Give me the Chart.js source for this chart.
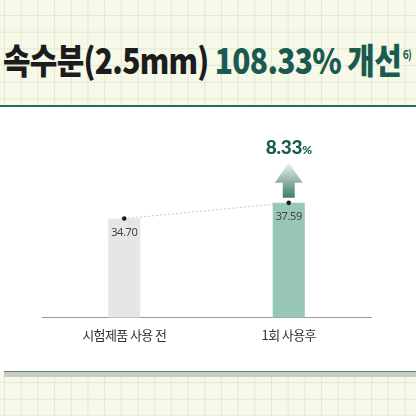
<!DOCTYPE html>
<html>
<head>
<meta charset="utf-8">
<script src="https://cdn.jsdelivr.net/npm/chart.js@4"></script>
<style>
  html, body { margin: 0; padding: 0; width: 416px; height: 416px; overflow: hidden; }
  body {
    position: relative;
    background-color: #f6f8e8;
    background-image:
      linear-gradient(to right, #e3e8d3 1px, transparent 1px),
      linear-gradient(to bottom, #e3e8d3 1px, transparent 1px);
    background-size: 16.7px 16.7px;
    background-position: 4px 15px;
    font-family: 'Noto Sans CJK KR', sans-serif;
  }
  #title {
    position: absolute; left: 3px; top: 35px;
    white-space: nowrap; font-size: 35px; font-weight: 900; line-height: 48px;
    color: #1c1c1c; letter-spacing: -0.8px;
    transform-origin: 0 50%; transform: scaleX(0.855);
  }
  #title .hl { color: #1b5a50; }
  #title .note { font-size: 12px; font-weight: 700; position: relative; top: -15px; margin-left: 2px; }
  #panel { position: absolute; left: 0; top: 105px; width: 416px; height: 264px; background: #fff; border-top: 2px solid #2b6b5c; }
  #band { position: absolute; left: 4px; right: 0; top: 371px; height: 5px; background: #c9cdbf; border-top: 1px solid #5b8078; }
  #wrap { position: absolute; left: 0; top: 107px; width: 416px; height: 264px; }
</style>
</head>
<body>
<div id="title">속수분(2.5mm) <span class="hl">108.33% 개선<span class="note">6)</span></span></div>
<div id="panel"></div>
<div id="band"></div>
<div id="wrap"><canvas id="moistChart"></canvas></div>
<script>
// 속수분 측정값
const categories = ['시험제품 사용 전', '1회 사용후'];
const moisture = [34.70, 37.59];
const valueLabels = ['34.70', '37.59'];
const barColors = ['#e6e6e6', '#98c7b7'];
const increaseValue = '8.33';

const annotate = {
  id: 'annotate',
  beforeDraw(chart) {
    chart.ctx.letterSpacing = '-0.6px';
  },
  afterDatasetsDraw(chart) {
    const ctx = chart.ctx;
    const bars = chart.getDatasetMeta(0).data;
    ctx.save();
    ctx.letterSpacing = '-0.4px';
    ctx.textAlign = 'center';
    ctx.textBaseline = 'middle';
    ctx.fillStyle = '#444';
    ctx.font = "11px 'Noto Sans'";
    bars.forEach((b, i) => ctx.fillText(valueLabels[i], b.x, b.y + 14));

    // 상승 화살표
    const b = bars[1];
    const tip = b.y - 40, neck = b.y - 20, foot = b.y - 5;
    const grad = ctx.createLinearGradient(0, tip, 0, foot);
    grad.addColorStop(0, '#eef2e8');
    grad.addColorStop(1, '#3e7c6c');
    ctx.fillStyle = grad;
    ctx.beginPath();
    ctx.moveTo(b.x, tip);
    ctx.lineTo(b.x + 14, neck);
    ctx.lineTo(b.x + 6, neck);
    ctx.lineTo(b.x + 6, foot);
    ctx.lineTo(b.x - 6, foot);
    ctx.lineTo(b.x - 6, neck);
    ctx.lineTo(b.x - 14, neck);
    ctx.closePath();
    ctx.fill();

    ctx.fillStyle = '#175a4e';
    ctx.letterSpacing = '-0.3px';
    ctx.font = "900 19px Lato";
    const w1 = ctx.measureText(increaseValue).width;
    ctx.font = "900 12px Lato";
    const w2 = ctx.measureText('%').width;
    const x0 = b.x - (w1 + w2) / 2;
    ctx.textAlign = 'left';
    ctx.textBaseline = 'alphabetic';
    ctx.font = "900 19px Lato";
    ctx.fillText(increaseValue, x0, b.y - 49);
    ctx.font = "900 12px Lato";
    ctx.fillText('%', x0 + w1, b.y - 49);
    ctx.restore();
  }
};

new Chart(document.getElementById('moistChart'), {
  data: {
    labels: categories,
    datasets: [{
      type: 'bar',
      data: moisture,
      backgroundColor: barColors,
      barPercentage: 0.195,
      categoryPercentage: 1,
      order: 1
    }, {
      type: 'line',
      data: moisture,
      borderColor: '#c8c8c8',
      borderWidth: 1,
      borderDash: [2, 2],
      pointRadius: 2.3,
      pointBorderWidth: 0,
      pointBackgroundColor: '#1a1a1a',
      order: 0
    }]
  },
  options: {
    responsive: true,
    maintainAspectRatio: false,
    animation: false,
    layout: { padding: { left: 42, right: 45, top: 23, bottom: 18 } },
    plugins: { legend: { display: false }, tooltip: { enabled: false } },
    scales: {
      x: {
        grid: { display: false, drawTicks: false },
        border: { display: true, color: '#9a9a9a', width: 1 },
        ticks: { color: '#333', padding: 10, font: { family: "'Noto Sans CJK KR'", size: 13 } }
      },
      y: { display: false, min: 16.5, max: 51 }
    }
  },
  plugins: [annotate]
});
</script>
</body>
</html>
